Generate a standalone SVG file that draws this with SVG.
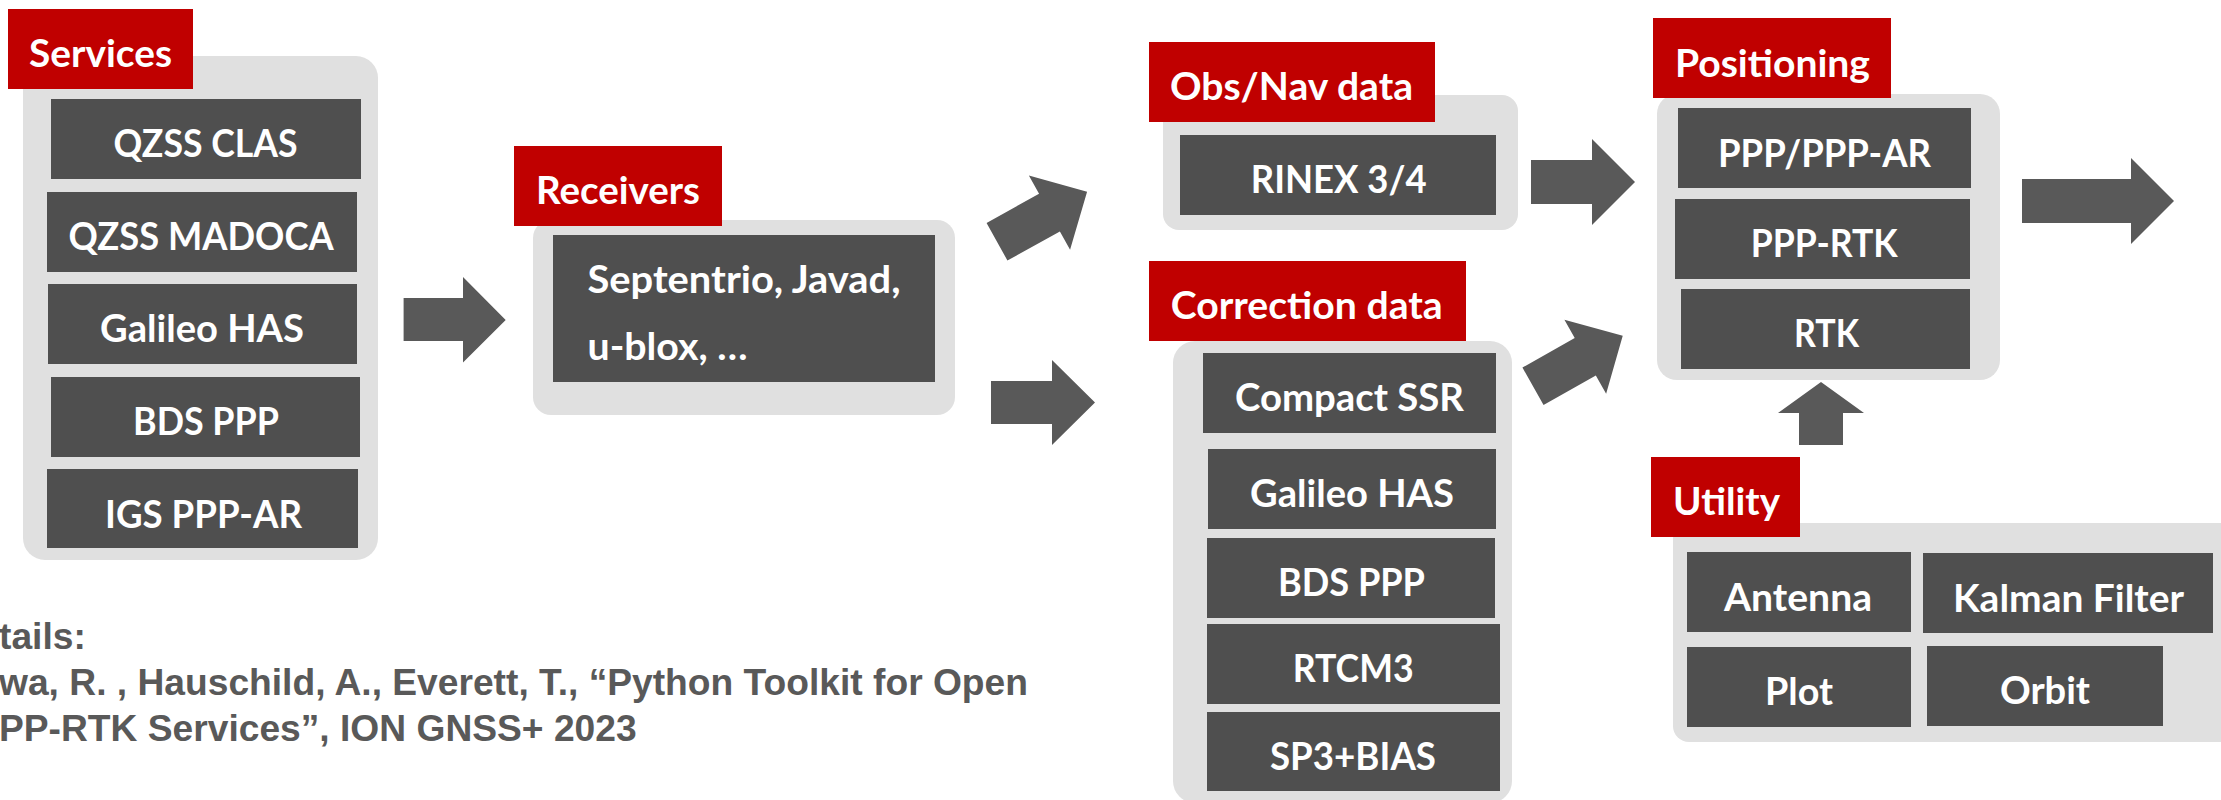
<svg xmlns="http://www.w3.org/2000/svg" width="2221" height="800" viewBox="0 0 2221 800">
<style>
.red{fill:#C00000}
.panel{fill:#E0E0E0}
.item{fill:#4F4F4F}
.lbl{font-family:Lato,"Liberation Sans",sans-serif;font-weight:700;font-size:38px;fill:#FFFFFF}
.arrow{fill:#595959}
.foot{font-family:"Liberation Sans",Arial,sans-serif;font-weight:700;font-size:37.2px;fill:#595959}
</style>
<defs>
<polygon id="diag" points="0,-21.5 60,-21.5 60,-42.5 103,0 60,42.5 60,21.5 0,21.5"/>
</defs>
<rect width="2221" height="800" fill="#FFFFFF"/>

<g id="connectors">
<polygon class="arrow" points="403.6,298 463,298 463,277 505.7,320 463,362.5 463,341 403.6,341"/>
<use href="#diag" class="arrow" transform="translate(997,241.7) rotate(-29)"/>
<polygon class="arrow" points="991,381 1052,381 1052,360 1095,402.5 1052,445 1052,424 991,424"/>
<polygon class="arrow" points="1531,160 1592,160 1592,139 1635,182 1592,225 1592,204 1531,204"/>
<use href="#diag" class="arrow" transform="translate(1533,386.3) rotate(-29.4)"/>
<polygon class="arrow" points="2022,179 2131,179 2131,158 2174,201 2131,244 2131,223 2022,223"/>
<polygon class="arrow" points="1799,445 1799,413 1778,413 1821,382 1864,413 1843,413 1843,445"/>
</g>

<g id="services">
<rect class="panel" x="23" y="56" width="355" height="504" rx="22"/>
<rect class="red" x="8" y="9" width="185" height="80"/>
<text class="lbl" x="29" y="67" textLength="143" lengthAdjust="spacingAndGlyphs">Services</text>
<g id="svc-qzss-clas"><rect class="item" x="51" y="99" width="310" height="80"/><text class="lbl" x="113.6" y="157" textLength="184" lengthAdjust="spacingAndGlyphs">QZSS CLAS</text></g>
<g id="svc-qzss-madoca"><rect class="item" x="47" y="192" width="310" height="80"/><text class="lbl" x="68.6" y="250" textLength="265" lengthAdjust="spacingAndGlyphs">QZSS MADOCA</text></g>
<g id="svc-galileo-has"><rect class="item" x="48" y="284" width="309" height="80"/><text class="lbl" x="100" y="342" textLength="204" lengthAdjust="spacingAndGlyphs">Galileo HAS</text></g>
<g id="svc-bds-ppp"><rect class="item" x="51" y="377" width="309" height="80"/><text class="lbl" x="133" y="435" textLength="146" lengthAdjust="spacingAndGlyphs">BDS PPP</text></g>
<g id="svc-igs-ppp-ar"><rect class="item" x="47" y="469" width="311" height="79"/><text class="lbl" x="105" y="527.5" textLength="197" lengthAdjust="spacingAndGlyphs">IGS PPP-AR</text></g>
</g>

<g id="receivers">
<rect class="panel" x="533" y="220" width="422" height="195" rx="18"/>
<rect class="red" x="514" y="146" width="208" height="80"/>
<text class="lbl" x="536" y="204" textLength="164" lengthAdjust="spacingAndGlyphs">Receivers</text>
<g id="rcv-list"><rect class="item" x="553" y="235" width="382" height="147"/>
<text class="lbl" x="587.5" y="293" textLength="313" lengthAdjust="spacingAndGlyphs">Septentrio, Javad,</text>
<text class="lbl" x="587.5" y="360" textLength="160" lengthAdjust="spacingAndGlyphs">u-blox, …</text></g>
</g>

<g id="obsnav">
<rect class="panel" x="1163" y="95" width="355" height="135" rx="16"/>
<rect class="red" x="1149" y="42" width="286" height="80"/>
<text class="lbl" x="1170" y="100" textLength="243" lengthAdjust="spacingAndGlyphs">Obs/Nav data</text>
<g id="obs-rinex"><rect class="item" x="1180" y="135" width="316" height="80"/><text class="lbl" x="1250.7" y="193" textLength="176" lengthAdjust="spacingAndGlyphs">RINEX 3/4</text></g>
</g>

<g id="correction">
<rect class="panel" x="1173" y="341" width="339" height="462" rx="22"/>
<rect class="red" x="1149" y="261" width="317" height="80"/>
<text class="lbl" x="1170.7" y="319" textLength="272" lengthAdjust="spacingAndGlyphs">Correction data</text>
<g id="cor-compact-ssr"><rect class="item" x="1203" y="353" width="293" height="80"/><text class="lbl" x="1235" y="410.7" textLength="229" lengthAdjust="spacingAndGlyphs">Compact SSR</text></g>
<g id="cor-galileo-has"><rect class="item" x="1208" y="449" width="288" height="80"/><text class="lbl" x="1250" y="507" textLength="204" lengthAdjust="spacingAndGlyphs">Galileo HAS</text></g>
<g id="cor-bds-ppp"><rect class="item" x="1207" y="538" width="288" height="80"/><text class="lbl" x="1278" y="596" textLength="147" lengthAdjust="spacingAndGlyphs">BDS PPP</text></g>
<g id="cor-rtcm3"><rect class="item" x="1207" y="624" width="293" height="80"/><text class="lbl" x="1292.7" y="681.7" textLength="121" lengthAdjust="spacingAndGlyphs">RTCM3</text></g>
<g id="cor-sp3-bias"><rect class="item" x="1207" y="712" width="293" height="79"/><text class="lbl" x="1270" y="770" textLength="166" lengthAdjust="spacingAndGlyphs">SP3+BIAS</text></g>
</g>

<g id="positioning">
<rect class="panel" x="1657" y="94" width="343" height="286" rx="20"/>
<rect class="red" x="1653" y="18" width="238" height="80"/>
<text class="lbl" x="1675" y="76.7" textLength="195" lengthAdjust="spacingAndGlyphs">Positioning</text>
<g id="pos-ppp-ar"><rect class="item" x="1678" y="108" width="293" height="80"/><text class="lbl" x="1718" y="166.7" textLength="213" lengthAdjust="spacingAndGlyphs">PPP/PPP-AR</text></g>
<g id="pos-ppp-rtk"><rect class="item" x="1675" y="199" width="295" height="80"/><text class="lbl" x="1750.7" y="256.7" textLength="147" lengthAdjust="spacingAndGlyphs">PPP-RTK</text></g>
<g id="pos-rtk"><rect class="item" x="1681" y="289" width="289" height="80"/><text class="lbl" x="1794" y="346.5" textLength="65" lengthAdjust="spacingAndGlyphs">RTK</text></g>
</g>

<g id="utility">
<rect class="panel" x="1673" y="523" width="580" height="219" rx="16"/>
<rect class="red" x="1651" y="457" width="149" height="80"/>
<text class="lbl" x="1673" y="515" textLength="107" lengthAdjust="spacingAndGlyphs">Utility</text>
<g id="utl-antenna"><rect class="item" x="1687" y="552" width="224" height="80"/><text class="lbl" x="1724" y="610.7" textLength="148" lengthAdjust="spacingAndGlyphs">Antenna</text></g>
<g id="utl-kalman"><rect class="item" x="1923" y="553" width="290" height="80"/><text class="lbl" x="1953" y="611.5" textLength="231" lengthAdjust="spacingAndGlyphs">Kalman Filter</text></g>
<g id="utl-plot"><rect class="item" x="1687" y="647" width="224" height="80"/><text class="lbl" x="1765" y="705" textLength="68" lengthAdjust="spacingAndGlyphs">Plot</text></g>
<g id="utl-orbit"><rect class="item" x="1927" y="646" width="236" height="80"/><text class="lbl" x="2000" y="704" textLength="90" lengthAdjust="spacingAndGlyphs">Orbit</text></g>
</g>

<g id="footer">
<text class="foot" x="-1" y="649">tails:</text>
<text class="foot" x="-1" y="695">wa, R. , Hauschild, A., Everett, T., “Python Toolkit for Open</text>
<text class="foot" x="-1" y="741">PP-RTK Services”, ION GNSS+ 2023</text>
</g>
</svg>
